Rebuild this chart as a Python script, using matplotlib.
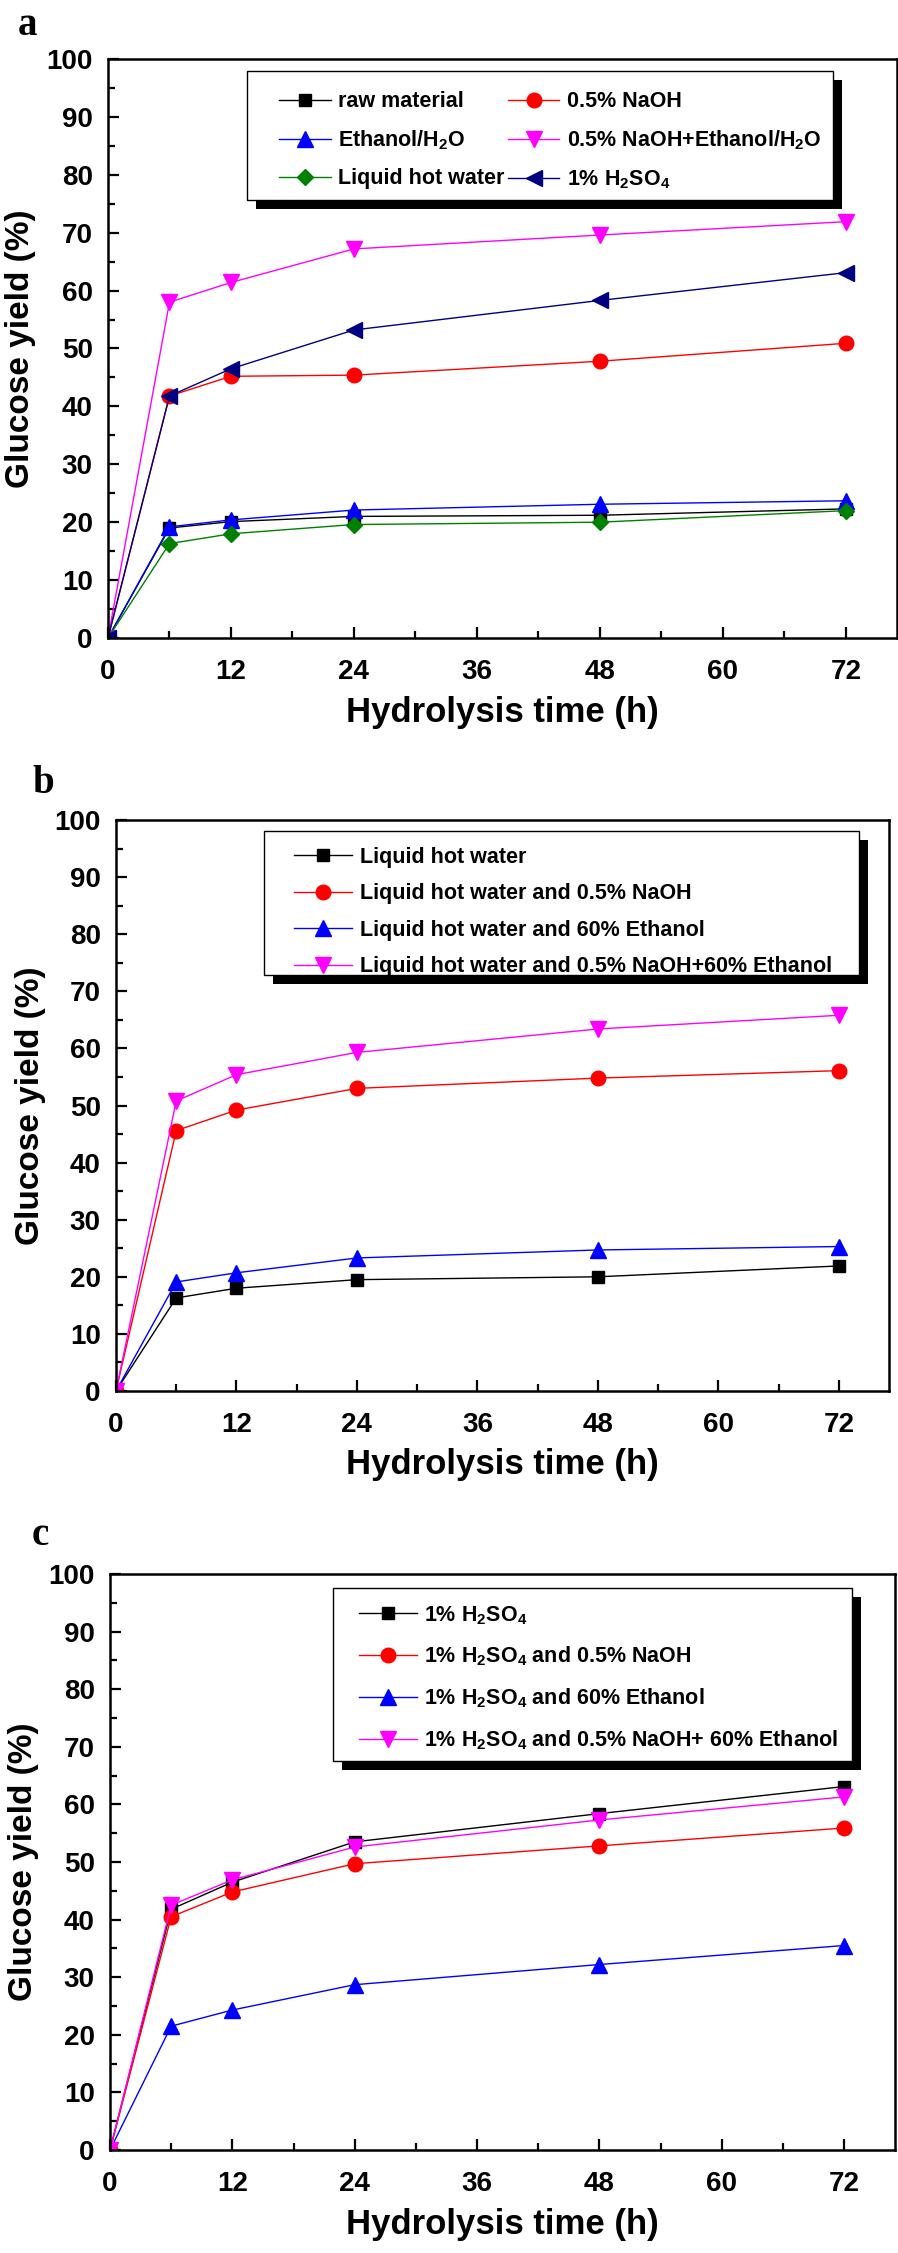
import numpy as np
import matplotlib.pyplot as plt
from matplotlib.patches import Rectangle
from matplotlib.ticker import MultipleLocator

plt.rcParams['font.family'] = ['Liberation Sans', 'DejaVu Sans']
plt.rcParams['font.weight'] = 'bold'
plt.rcParams['mathtext.default'] = 'regular'

time = [0, 6, 12, 24, 48, 72]

# (a) pretreatments
a_labels = ["raw material", "0.5% NaOH", "Ethanol/H$_2$O",
            "0.5% NaOH+Ethanol/H$_2$O", "Liquid hot water", "1% H$_2$SO$_4$"]
a_raw = [0, 19.0, 20.1, 21.0, 21.2, 22.3]
a_naoh = [0, 41.8, 45.2, 45.4, 47.8, 50.9]
a_eth = [0, 19.2, 20.4, 22.1, 23.1, 23.7]
a_naoh_eth = [0, 58.0, 61.4, 67.2, 69.6, 71.9]
a_lhw = [0, 16.3, 18.0, 19.6, 20.0, 22.0]
a_acid = [0, 41.8, 46.5, 53.2, 58.3, 63.1]

# (b) liquid hot water combos
b_labels = ["Liquid hot water", "Liquid hot water and 0.5% NaOH",
            "Liquid hot water and 60% Ethanol",
            "Liquid hot water and 0.5% NaOH+60% Ethanol"]
b_lhw = [0, 16.3, 18.0, 19.5, 20.0, 21.9]
b_naoh = [0, 45.6, 49.2, 53.0, 54.8, 56.1]
b_eth = [0, 19.1, 20.7, 23.3, 24.7, 25.3]
b_naoh_eth = [0, 50.8, 55.4, 59.3, 63.4, 65.8]

# (c) dilute acid combos
c_labels = ["1% H$_2$SO$_4$", "1% H$_2$SO$_4$ and 0.5% NaOH",
            "1% H$_2$SO$_4$ and 60% Ethanol",
            "1% H$_2$SO$_4$ and 0.5% NaOH+ 60% Ethanol"]
c_acid = [0, 41.8, 46.5, 53.5, 58.4, 63.1]
c_naoh = [0, 40.5, 44.8, 49.7, 52.8, 55.9]
c_eth = [0, 21.5, 24.3, 28.7, 32.2, 35.5]
c_naoh_eth = [0, 42.5, 46.9, 52.6, 57.3, 61.3]

# colour, marker, marker size
sty = {
    "k": ("black", "s", 9),
    "r": ("red", "o", 10.5),
    "b": ("blue", "^", 11.5),
    "m": ("magenta", "v", 11.5),
    "g": ("green", "D", 8),
    "n": ("navy", "<", 11.5),
}

W, H = 898, 2253
fig = plt.figure(figsize=(W / 100, H / 100), dpi=100)


def make_ax(l, t, r, b):
    return fig.add_axes([l / W, 1 - b / H, (r - l) / W, (b - t) / H])


def plot_series(ax, series, keys, labels):
    for y, k, lab in zip(series, keys, labels):
        c, m, ms = sty[k]
        ax.plot(time, y, color=c, marker=m, ms=ms, lw=1, label=lab)


def style_ax(ax):
    ax.set_xlim(0, 77)
    ax.set_ylim(0, 100)
    ax.xaxis.set_major_locator(MultipleLocator(12))
    ax.xaxis.set_minor_locator(MultipleLocator(6))
    ax.yaxis.set_major_locator(MultipleLocator(10))
    ax.yaxis.set_minor_locator(MultipleLocator(5))
    ax.tick_params(which="both", direction="in", width=1.6, labelsize=20)
    ax.tick_params(which="major", length=8)
    ax.tick_params(which="minor", length=5)
    ax.tick_params(axis="x", pad=15)
    ax.tick_params(axis="y", pad=11)
    for s in ax.spines.values():
        s.set_linewidth(1.8)
    ax.set_xlabel("Hydrolysis time (h)", fontsize=25, fontweight="bold")
    ax.set_ylabel("Glucose yield (%)", fontsize=24, fontweight="bold")
    ax.xaxis.set_label_coords(0.5, -0.1)
    ax.yaxis.set_label_coords(-0.091, 0.5)


def legend_box(ax, x0, y0, x1, y1, sh=9):
    bb = ax.get_position()
    dx = sh / (bb.width * W)
    dy = sh / (bb.height * H)
    ax.add_patch(Rectangle((x0 + dx, y0 - dy), x1 - x0, y1 - y0, transform=ax.transAxes,
                           fc="black", ec="none", zorder=4, clip_on=False))
    ax.add_patch(Rectangle((x0, y0), x1 - x0, y1 - y0, transform=ax.transAxes,
                           fc="white", ec="black", lw=1, zorder=4.5, clip_on=False))


leg_kw = dict(frameon=False, loc="upper left", borderaxespad=0, borderpad=0,
              fontsize=15.5, handletextpad=0.35)

# panel a
ax1 = make_ax(108, 59, 897, 638)
plot_series(ax1, [a_raw, a_naoh, a_eth, a_naoh_eth, a_lhw, a_acid],
            ["k", "r", "b", "m", "g", "n"], a_labels)
style_ax(ax1)
legend_box(ax1, 0.176, 0.757, 0.919, 0.980)
h, l = ax1.get_legend_handles_labels()
order = [0, 2, 4, 1, 3, 5]  # fill rows left to right
leg = ax1.legend([h[i] for i in order], [l[i] for i in order], ncol=2, columnspacing=0.15,
                 handlelength=2.4, labelspacing=0.75, bbox_to_anchor=(0.2167, 0.944), **leg_kw)
leg.set_zorder(5)

# panel b
ax2 = make_ax(116, 820, 889, 1391)
plot_series(ax2, [b_lhw, b_naoh, b_eth, b_naoh_eth], ["k", "r", "b", "m"], b_labels)
style_ax(ax2)
legend_box(ax2, 0.192, 0.728, 0.961, 0.980)
leg = ax2.legend(bbox_to_anchor=(0.2303, 0.953), handlelength=2.7, labelspacing=0.72, **leg_kw)
leg.set_zorder(5)

# panel c
ax3 = make_ax(110, 1574, 895, 2150)
plot_series(ax3, [c_acid, c_naoh, c_eth, c_naoh_eth], ["k", "r", "b", "m"], c_labels)
style_ax(ax3)
legend_box(ax3, 0.284, 0.6745, 0.945, 0.975)
leg = ax3.legend(bbox_to_anchor=(0.3166, 0.948), handlelength=2.7, labelspacing=0.85, **leg_kw)
leg.set_zorder(5)

for lab, x, yb in [("a", 18, 35), ("b", 32, 793), ("c", 32, 1545)]:
    fig.text(x / W, 1 - yb / H, lab, family="Liberation Serif", fontweight="bold",
             fontsize=28, ha="left", va="baseline")

fig.savefig("out.png", dpi=100)
